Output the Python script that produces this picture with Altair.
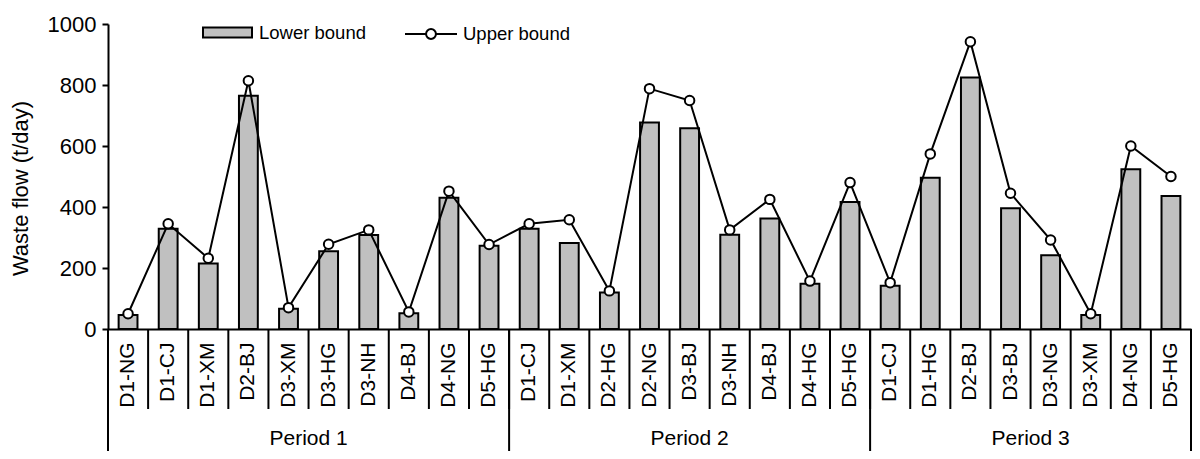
import altair as alt
import pandas as pd
import numpy as np

periods = ["Period 1", "Period 2", "Period 3"]
period_sizes = [10, 9, 8]
categories = [
    "D1-NG", "D1-CJ", "D1-XM", "D2-BJ", "D3-XM", "D3-HG", "D3-NH", "D4-BJ", "D4-NG", "D5-HG",
    "D1-CJ", "D1-XM", "D2-HG", "D2-NG", "D3-BJ", "D3-NH", "D4-BJ", "D4-HG", "D5-HG",
    "D1-CJ", "D1-HG", "D2-BJ", "D3-BJ", "D3-NG", "D3-XM", "D4-NG", "D5-HG",
]
lower = [46, 329, 215, 765, 66, 255, 308, 52, 430, 273,
         329, 282, 120, 677, 658, 309, 362, 148, 416,
         142, 496, 825, 396, 242, 46, 524, 436]
upper = [50, 345, 232, 814, 70, 278, 325, 56, 452, 277,
         345, 358, 125, 788, 749, 325, 425, 157, 480,
         152, 574, 942, 445, 292, 50, 600, 500]
y_ticks = [0, 200, 400, 600, 800, 1000]

keys = [f"{i:02d} {c}" for i, c in enumerate(categories)]
period_col = []
for p, n in zip(periods, period_sizes):
    period_col += [p] * n
df = pd.DataFrame(dict(key=keys, cat=categories, lower=lower, upper=upper, period=period_col))
df["lb"] = "Lower bound"
df["ub"] = "Upper bound"

starts = list(np.cumsum([0] + period_sizes[:-1]))
first_df = df.iloc[starts]
last_df = df.iloc[[len(df) - 1]]
even_anchor = df.iloc[[s + n // 2 for s, n in zip(starts, period_sizes) if n % 2 == 0]]
odd_anchor = df.iloc[[s + n // 2 for s, n in zip(starts, period_sizes) if n % 2 == 1]]

W, H = 1083, 305
FONT = "Liberation Sans"

x_axis = alt.Axis(
    title=None, labelExpr="substring(datum.label, 3)", labelAngle=270,
    labelAlign="right", labelBaseline="middle", labelPadding=13, labelFontSize=21,
    labelColor="black", ticks=False, domainWidth=2, domainColor="black",
    labelOverlap=False, labelFlush=False,
)
x_scale = alt.Scale(paddingInner=0, paddingOuter=0)


def mkx(bp=0.5):
    return alt.X("key:N", sort=keys, scale=x_scale, axis=x_axis, bandPosition=bp, title=None)


y_enc = alt.Y(
    "lower:Q",
    scale=alt.Scale(domain=[0, 1000], nice=False),
    axis=alt.Axis(
        values=y_ticks, format="d", tickSize=6, tickWidth=2, tickColor="black", domainWidth=2,
        domainColor="black", labelFontSize=22, labelColor="black", labelPadding=6,
        title="Waste flow (t/day)", titleFontSize=22, titleFontWeight="normal",
        titleColor="black", titleX=-88, titleY=164, titleAngle=270,
        titleAlign="center", titleBaseline="middle",
    ),
)

bars = alt.Chart(df).mark_bar(
    width=alt.RelativeBandSize(0.47), stroke="black", strokeWidth=2
).encode(
    x=mkx(),
    y=y_enc,
    fill=alt.Fill(
        "lb:N",
        scale=alt.Scale(domain=["Lower bound"], range=["#c0c0c0"]),
        legend=alt.Legend(
            orient="none", legendX=94, legendY=-17, title=None,
            symbolType="M-1,-0.2H1V0.2H-1Z", symbolSize=2401,
            symbolStrokeColor="black", symbolStrokeWidth=2, symbolFillColor="#c0c0c0",
            labelFontSize=18.5, labelColor="black", labelOffset=6, labelFont=FONT,
        ),
    ),
)

line = alt.Chart(df).mark_line(strokeWidth=2).encode(
    x=mkx(),
    y=alt.Y("upper:Q"),
    stroke=alt.Stroke(
        "ub:N",
        scale=alt.Scale(domain=["Upper bound"], range=["black"]),
        legend=alt.Legend(
            orient="none", legendX=296, legendY=-17, title=None,
            symbolType="M-1,0H-0.19M0.19,0H1M-0.19,0A0.19,0.19,0,1,1,0.19,0A0.19,0.19,0,1,1,-0.19,0Z",
            symbolSize=2704, symbolStrokeColor="black", symbolStrokeWidth=2,
            symbolFillColor="white", labelFontSize=18.5, labelColor="black",
            labelOffset=5, labelFont=FONT,
        ),
    ),
)

points = alt.Chart(df).mark_point(
    shape="circle", size=90, filled=True, fill="white", stroke="black",
    strokeWidth=2, opacity=1,
).encode(x=mkx(), y=alt.Y("upper:Q"))

cat_sep = alt.Chart(df).mark_rule(color="black", strokeWidth=2).encode(
    x=mkx(0), y=alt.datum(0), y2=alt.value(385)
)
per_sep = alt.Chart(first_df).mark_rule(color="black", strokeWidth=2).encode(
    x=mkx(0), y=alt.datum(0), y2=alt.value(440)
)
end_sep = alt.Chart(last_df).mark_rule(color="black", strokeWidth=2).encode(
    x=mkx(1), y=alt.datum(0), y2=alt.value(440)
)
per_txt_even = alt.Chart(even_anchor).mark_text(
    fontSize=21, font=FONT, color="black", baseline="middle", align="center"
).encode(x=mkx(0), y=alt.value(415), text="period:N")
per_txt_odd = alt.Chart(odd_anchor).mark_text(
    fontSize=21, font=FONT, color="black", baseline="middle", align="center"
).encode(x=mkx(0.5), y=alt.value(415), text="period:N")

chart = alt.layer(
    bars, line, points, cat_sep, per_sep, end_sep, per_txt_even, per_txt_odd
).properties(
    width=W, height=H,
    autosize=alt.AutoSizeParams(type="none"),
    padding={"left": 100, "top": 16, "right": 1, "bottom": 122},
).configure(font=FONT).configure_view(stroke=None).configure_axis(grid=False)

chart.save("out.html", embed_options={"renderer": "svg", "actions": False})
